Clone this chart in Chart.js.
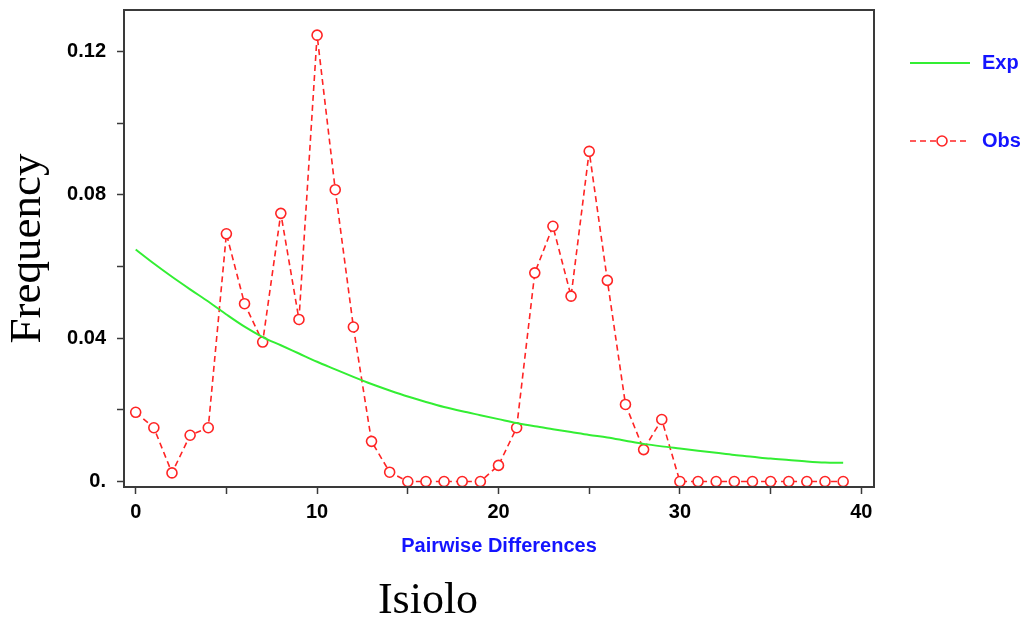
<!DOCTYPE html>
<html>
<head>
<meta charset="utf-8">
<script src="https://cdn.jsdelivr.net/npm/chart.js@4.4.1/dist/chart.umd.min.js"></script>
<style>
  html, body { margin: 0; padding: 0; background: #ffffff; }
  #wrap { width: 1031px; height: 619px; position: relative; }
</style>
</head>
<body>
<div id="wrap"><canvas id="c" width="1031" height="619"></canvas></div>
<script>
// ---- data ----
const pairwiseDiffs = [0,1,2,3,4,5,6,7,8,9,10,11,12,13,14,15,16,17,18,19,
                       20,21,22,23,24,25,26,27,28,29,30,31,32,33,34,35,36,37,38,39];
const expFreq = [0.0647,0.0608,0.0571,0.0536,0.0502,0.0466,0.0432,0.0403,0.0380,0.0357,
                 0.0334,0.0313,0.0292,0.0272,0.0254,0.0237,0.0222,0.0208,0.0196,0.0185,
                 0.0174,0.0163,0.0154,0.0146,0.0138,0.0130,0.0123,0.0114,0.0105,0.0098,
                 0.0092,0.0086,0.0080,0.0074,0.0069,0.0064,0.0060,0.0056,0.0053,0.0052];
const obsFreq = [0.0193,0.0150,0.0024,0.0129,0.0150,0.0691,0.0496,0.0389,0.0748,0.0452,
                 0.1245,0.0814,0.0431,0.0112,0.0026,0,0,0,0,0,
                 0.0045,0.0150,0.0582,0.0712,0.0517,0.0921,0.0561,0.0215,0.0089,0.0173,
                 0,0,0,0,0,0,0,0,0,0];
const xTickValues = [0,5,10,15,20,25,30,35,40];
const xTickLabelled = [0,10,20,30,40];
const yTickValues = [0,0.02,0.04,0.06,0.08,0.10,0.12];
const yTickLabels = {0:'0.', 0.04:'0.04', 0.08:'0.08', 0.12:'0.12'};
const seriesNames = ['Exp','Obs'];
const xAxisTitle = 'Pairwise Differences';
const yAxisTitle = 'Frequency';
const captionText = 'Isiolo';

const GREEN = '#33ee33';
const RED = '#ff2424';
const BLUE = '#1414ff';
const FRAME = '#3a3a3a';

const framePlugin = {
  id: 'frame',
  afterDatasetsDraw(chart) {
    const {ctx, chartArea: a} = chart;
    ctx.save();
    ctx.strokeStyle = FRAME;
    ctx.lineWidth = 2;
    ctx.strokeRect(a.left, a.top, a.right - a.left, a.bottom - a.top);
    ctx.restore();
  }
};

const legendPlugin = {
  id: 'sideLegend',
  afterDraw(chart) {
    const {ctx} = chart;
    const rows = [63, 141];
    chart.data.datasets.forEach((ds, i) => {
      const y = rows[i];
      ctx.save();
      ctx.strokeStyle = ds.borderColor;
      ctx.lineWidth = ds.borderWidth;
      ctx.setLineDash(ds.borderDash || []);
      ctx.beginPath();
      ctx.moveTo(910, y);
      ctx.lineTo(970, y);
      ctx.stroke();
      ctx.setLineDash([]);
      if (ds.pointRadius > 0) {
        ctx.beginPath();
        ctx.arc(942, y, ds.pointRadius, 0, Math.PI * 2);
        ctx.fillStyle = ds.pointBackgroundColor;
        ctx.fill();
        ctx.lineWidth = ds.pointBorderWidth;
        ctx.strokeStyle = ds.pointBorderColor;
        ctx.stroke();
      }
      ctx.fillStyle = BLUE;
      ctx.font = 'bold 20px "Liberation Sans", Arial, sans-serif';
      ctx.textAlign = 'left';
      ctx.textBaseline = 'middle';
      ctx.fillText(ds.label, 982, y);
      ctx.restore();
    });
  }
};

const captionPlugin = {
  id: 'caption',
  afterDraw(chart) {
    const {ctx} = chart;
    ctx.save();
    ctx.fillStyle = '#000';
    ctx.font = '44px "Liberation Serif", "Times New Roman", serif';
    ctx.textAlign = 'center';
    ctx.textBaseline = 'alphabetic';
    ctx.fillText(captionText, 428, 613);
    ctx.restore();
  }
};

const tickFont = { family: '"Liberation Sans", Arial, sans-serif', size: 20, weight: 'bold' };

new Chart(document.getElementById('c'), {
  type: 'line',
  data: {
    datasets: [
      {
        label: seriesNames[0],
        data: pairwiseDiffs.map((d, i) => ({x: d, y: expFreq[i]})),
        borderColor: GREEN,
        borderWidth: 2,
        pointRadius: 0,
        tension: 0.3,
        cubicInterpolationMode: 'monotone',
        fill: false
      },
      {
        label: seriesNames[1],
        data: pairwiseDiffs.map((d, i) => ({x: d, y: obsFreq[i]})),
        borderColor: RED,
        borderWidth: 1.6,
        borderDash: [6, 4],
        pointRadius: 5,
        pointBorderWidth: 1.6,
        pointBorderColor: RED,
        pointBackgroundColor: '#ffffff',
        tension: 0,
        fill: false,
        clip: false
      }
    ]
  },
  options: {
    responsive: false,
    animation: false,
    events: [],
    layout: { padding: { left: 0, right: 157, top: 10, bottom: 62 } },
    plugins: { legend: { display: false }, tooltip: { enabled: false }, title: { display: false } },
    scales: {
      x: {
        type: 'linear',
        min: -0.645,
        max: 40.70,
        afterBuildTicks: s => { s.ticks = xTickValues.map(v => ({value: v})); },
        afterFit: s => { s.height = 70; s.paddingLeft = 0; s.paddingRight = 0; s.paddingTop = 0; s.paddingBottom = 0; },
        border: { display: false },
        grid: { drawOnChartArea: false, drawTicks: true, tickLength: 7, tickColor: FRAME, tickWidth: 1.5 },
        ticks: {
          autoSkip: false, maxRotation: 0, minRotation: 0, padding: 6,
          color: '#000', font: tickFont,
          callback: v => xTickLabelled.includes(v) ? String(v) : ''
        },
        title: {
          display: true, text: xAxisTitle, color: BLUE,
          font: { family: '"Liberation Sans", Arial, sans-serif', size: 20, weight: 'bold', lineHeight: 1 },
          padding: { top: 0, bottom: 1 }
        }
      },
      y: {
        type: 'linear',
        min: -0.00153,
        max: 0.13152,
        afterBuildTicks: s => { s.ticks = yTickValues.map(v => ({value: v})); },
        afterFit: s => { s.width = 124; s.paddingTop = 0; s.paddingBottom = 0; s.paddingLeft = 0; s.paddingRight = 0; },
        border: { display: false },
        grid: { drawOnChartArea: false, drawTicks: true, tickLength: 7, tickColor: FRAME, tickWidth: 1.5 },
        ticks: {
          autoSkip: false, padding: 11, color: '#000', font: tickFont,
          callback: v => {
            const key = Object.keys(yTickLabels).find(k => Math.abs(Number(k) - v) < 1e-9);
            return key !== undefined ? yTickLabels[key] : '';
          }
        },
        title: {
          display: true, text: yAxisTitle, color: '#000',
          font: { family: '"Liberation Serif", "Times New Roman", serif', size: 45, weight: 'normal', lineHeight: 1 },
          padding: { top: 6, bottom: 0 }
        }
      }
    }
  },
  plugins: [framePlugin, legendPlugin, captionPlugin]
});
</script>
</body>
</html>
